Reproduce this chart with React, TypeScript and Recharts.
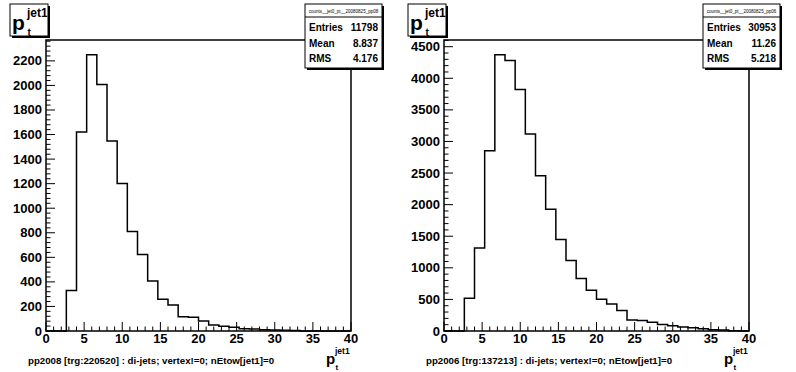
import { ComposedChart, Line, XAxis, YAxis, ReferenceArea } from "recharts";

// 30 bins of width 4/3 GeV between 0 and 40
const binEdges = Array.from({ length: 31 }, (_, i) => (i * 40) / 30);

const counts2008 = [
    0, 0, 330, 1620, 2250, 2008, 1547, 1202, 811, 624,
    407, 258, 212, 117, 112, 82, 49, 38, 30, 19,
    16, 11, 8, 6, 4, 0, 0, 0, 0, 0
];

const counts2006 = [
    0, 0, 520, 1313, 2853, 4372, 4283, 3822, 3118, 2456,
    1927, 1450, 1117, 831, 646, 503, 429, 323, 175, 165,
    138, 101, 85, 63, 52, 37, 21, 15, 3, 0
];

const xMajor = [0, 5, 10, 15, 20, 25, 30, 35, 40];
const yMajor2008 = [0, 200, 400, 600, 800, 1000, 1200, 1400, 1600, 1800, 2000, 2200];
const yMajor2006 = [0, 500, 1000, 1500, 2000, 2500, 3000, 3500, 4000, 4500];

const stats2008 = { entries: "11798", mean: "8.837", rms: "4.176" };
const stats2006 = { entries: "30953", mean: "11.26", rms: "5.218" };

const FONT = "'Liberation Sans', Arial, Helvetica, sans-serif";

function minorTicks(step: number, max: number) {
    const out: number[] = [];
    for (let v = 0; v <= max + 1e-9; v += step) out.push(Math.round(v * 1000) / 1000);
    return out;
}

interface PanelProps {
    counts: number[];
    yMax: number;
    yMajor: number[];
    yMinorStep: number;
    stats: { entries: string; mean: string; rms: string };
    statsTitle: string;
    caption: string;
}

function Panel({ counts, yMax, yMajor, yMinorStep, stats, statsTitle, caption }: PanelProps) {

    const data = binEdges.map((x, i) => ({
        x,
        n: counts[Math.min(i, counts.length - 1)]
    }));

    const xTicks = minorTicks(1, 40);
    const yTicks = minorTicks(yMinorStep, yMax);

    const renderXTick = (p: any) => {
        const v = p.payload.value;
        const major = xMajor.includes(v);
        return (
            <g>
                <line x1={p.x} x2={p.x} y1={p.y} y2={p.y - (major ? 9 : 4.5)} stroke="#000" strokeWidth={1} />
                {major && (
                    <text x={p.x} y={p.y + 11.5} textAnchor="middle" fontFamily={FONT} fontWeight="bold" fontSize={13} fill="#000">
                        {v}
                    </text>
                )}
            </g>
        );
    };

    const renderYTick = (p: any) => {
        const v = p.payload.value;
        const major = yMajor.includes(v);
        return (
            <g>
                <line x1={p.x} x2={p.x + (major ? 9 : 4.5)} y1={p.y} y2={p.y} stroke="#000" strokeWidth={1} />
                {major && (
                    <text x={p.x - 4} y={p.y + 4.5} textAnchor="end" fontFamily={FONT} fontWeight="bold" fontSize={13} fill="#000">
                        {v}
                    </text>
                )}
            </g>
        );
    };

    return (
        <div style={{ position: "relative", width: 398, height: 372 }}>

            <ComposedChart
                width={398}
                height={372}
                data={data}
                margin={{ top: 40, right: 47, bottom: 0, left: 0 }}
            >

                <XAxis
                    type="number"
                    dataKey="x"
                    domain={[0, 40]}
                    ticks={xTicks}
                    interval={0}
                    tickSize={0}
                    tickMargin={0}
                    axisLine={false}
                    height={41}
                    tick={renderXTick}
                />

                <YAxis
                    type="number"
                    domain={[0, yMax]}
                    ticks={yTicks}
                    interval={0}
                    tickSize={0}
                    tickMargin={0}
                    axisLine={false}
                    width={46}
                    tick={renderYTick}
                />

                <ReferenceArea
                    x1={0}
                    x2={40}
                    y1={0}
                    y2={yMax}
                    fill="none"
                    stroke="#000"
                    strokeWidth={1.5}
                    ifOverflow="visible"
                />

                <Line
                    type="stepAfter"
                    dataKey="n"
                    stroke="#000"
                    strokeWidth={1.5}
                    dot={false}
                    activeDot={false}
                    isAnimationActive={false}
                />

            </ComposedChart>

            <svg
                width={398}
                height={372}
                style={{ position: "absolute", left: 0, top: 0, pointerEvents: "none" }}
                fontFamily={FONT}
            >

                {/* histogram title */}
                <rect x={12} y={6} width={38} height={32} fill="#000" />
                <rect x={10} y={4} width={38} height={32} fill="#fff" stroke="#000" strokeWidth={1} />
                <text x={12} y={30} fontSize={21} fontWeight="bold">p</text>
                <text x={27} y={17} fontSize={12} fontWeight="bold">jet1</text>
                <text x={27.5} y={36} fontSize={10} fontWeight="bold">t</text>

                {/* stats box */}
                <rect x={307} y={6} width={77} height={64} fill="#000" />
                <rect x={305} y={4} width={77} height={64} fill="#fff" stroke="#000" strokeWidth={1} />
                <line x1={305} x2={382} y1={17} y2={17} stroke="#000" strokeWidth={1} />
                <text x={343.5} y={12.5} fontSize={4.5} textAnchor="middle">{statsTitle}</text>
                <text x={309} y={31} fontSize={10} fontWeight="bold">Entries</text>
                <text x={378} y={31} fontSize={10} fontWeight="bold" textAnchor="end">{stats.entries}</text>
                <text x={309} y={46.5} fontSize={10} fontWeight="bold">Mean</text>
                <text x={378} y={46.5} fontSize={10} fontWeight="bold" textAnchor="end">{stats.mean}</text>
                <text x={309} y={62} fontSize={10} fontWeight="bold">RMS</text>
                <text x={378} y={62} fontSize={10} fontWeight="bold" textAnchor="end">{stats.rms}</text>

                {/* x axis title */}
                <text x={326} y={364} fontSize={15} fontWeight="bold">p</text>
                <text x={335} y={354} fontSize={8.5} fontWeight="bold">jet1</text>
                <text x={335.5} y={370} fontSize={8} fontWeight="bold">t</text>

                {/* caption */}
                <text x={28} y={364} fontSize={9.7} fontWeight="bold">{caption}</text>

            </svg>

        </div>
    );
}

export default function App() {

    return (
        <div style={{ position: "absolute", left: 0, top: 0, width: 796, height: 372, background: "#fff", display: "flex" }}>

            <Panel
                counts={counts2008}
                yMax={2370}
                yMajor={yMajor2008}
                yMinorStep={40}
                stats={stats2008}
                statsTitle="counts__jet0_pt__20080825_pp08"
                caption="pp2008 [trg:220520] : di-jets; vertex!=0; nEtow[jet1]=0"
            />

            <Panel
                counts={counts2006}
                yMax={4606}
                yMajor={yMajor2006}
                yMinorStep={100}
                stats={stats2006}
                statsTitle="counts__jet0_pt__20080825_pp06"
                caption="pp2006 [trg:137213] : di-jets; vertex!=0; nEtow[jet1]=0"
            />

        </div>
    );
}
